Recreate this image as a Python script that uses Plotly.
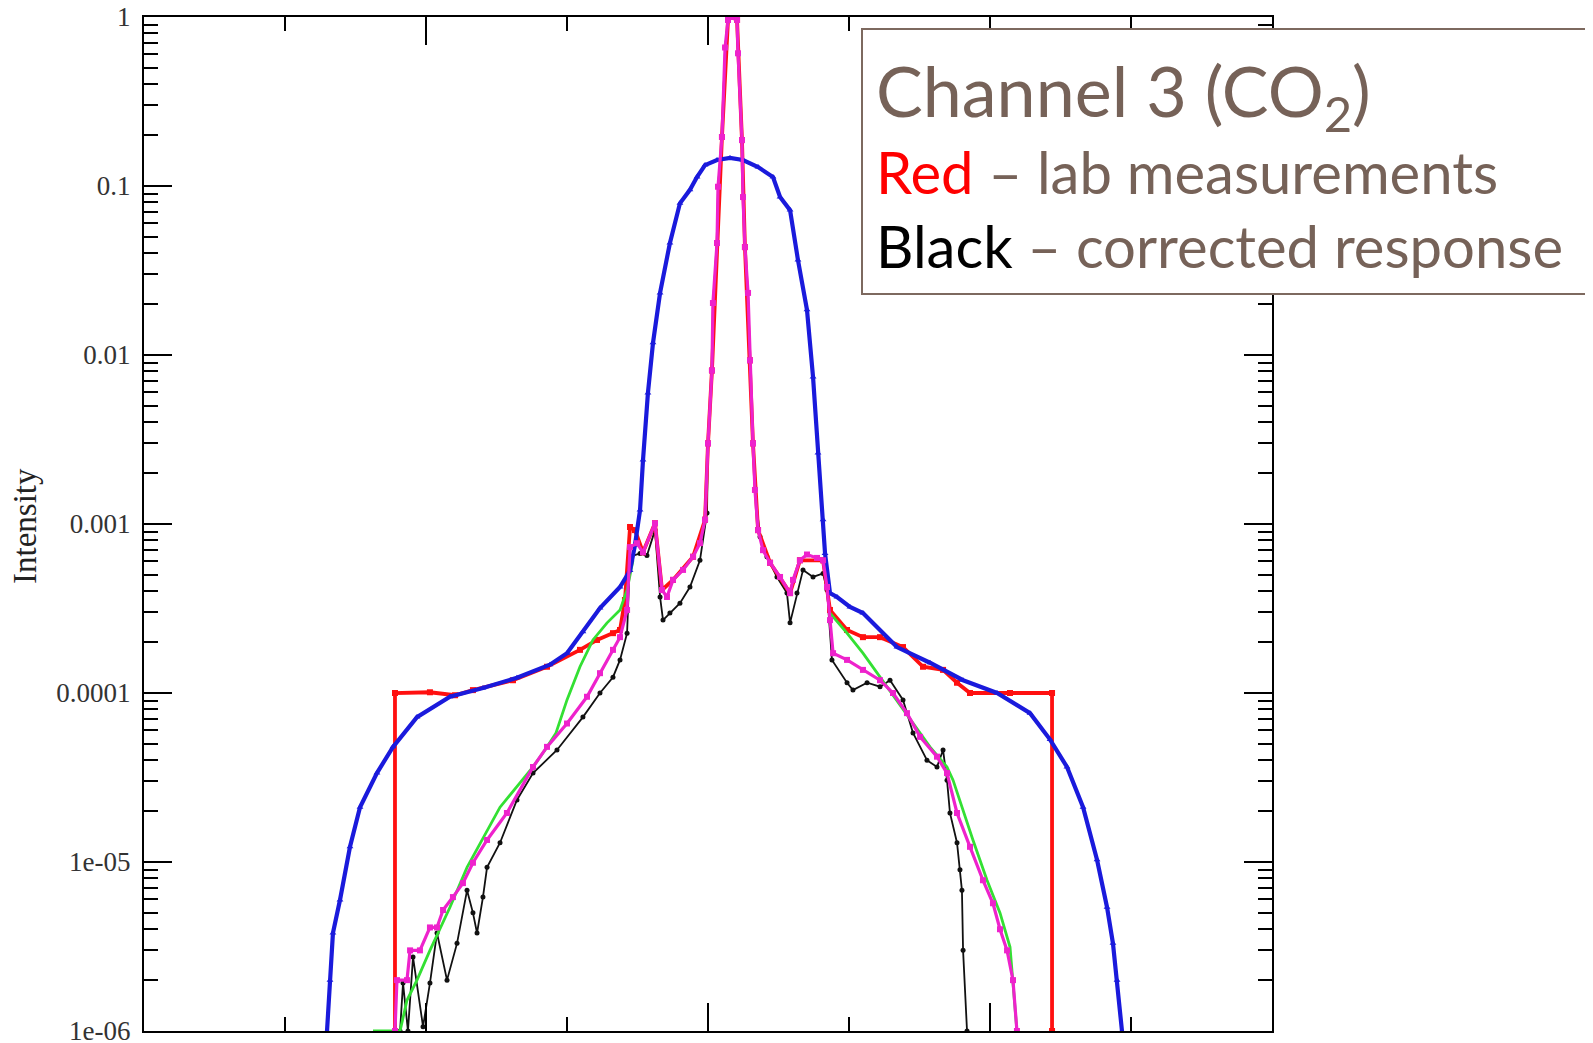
import plotly.graph_objects as go

# ---------------- data ----------------
blue_x = [-2.702, -2.681, -2.660, -2.610, -2.539, -2.468, -2.348, -2.234, -2.064, -1.830,
          -1.596, -1.355, -1.121, -1.000, -0.887, -0.766, -0.624, -0.553, -0.518, -0.482,
          -0.461, -0.426, -0.390, -0.340, -0.270, -0.199, -0.128, -0.078, -0.021, 0.064,
          0.156, 0.248, 0.355, 0.461, 0.511,
          0.582, 0.638, 0.702, 0.745, 0.780, 0.816, 0.830, 0.865, 0.915, 1.007, 1.099, 1.340,
          1.574, 1.809, 2.050, 2.284, 2.426, 2.546, 2.660, 2.759, 2.830, 2.872, 2.901, 2.936]
blue_y = [1.0e-6, 2.0e-6, 3.8e-6, 5.96e-6, 1.23e-5, 2.11e-5, 3.36e-5, 4.8e-5, 7.2e-5, 9.5e-5,
          1.07e-4, 1.23e-4, 1.47e-4, 1.72e-4, 2.3e-4, 3.18e-4, 4.24e-4, 5.3e-4, 7.5e-4, 1.21e-3,
          2.39e-3, 5.96e-3, 1.18e-2, 2.33e-2, 4.6e-2, 7.9e-2, 9.5e-2, 0.113, 0.133, 0.1425,
          0.1465, 0.1425, 0.1295, 0.113, 8.6e-2,
          7.2e-2, 3.65e-2, 1.85e-2, 7.4e-3, 2.63e-3, 1.06e-3, 6.7e-4, 3.9e-4, 3.7e-4, 3.23e-4,
          2.97e-4, 1.87e-4, 1.51e-4, 1.19e-4, 1.0e-4, 7.6e-5, 5.3e-5, 3.65e-5, 2.11e-5, 1.03e-5,
          5.4e-6, 3.3e-6, 2.0e-6, 1.0e-6]

red_x = [-2.220, -2.220, -1.972, -1.794, -1.667, -1.383, -1.142, -0.908, -0.787, -0.674,
         -0.624, -0.589, -0.553, -0.518, -0.461, -0.376, -0.326, -0.248, -0.106, -0.021,
         0.000, 0.028, 0.064, 0.099, 0.142, 0.170, 0.206, 0.241, 0.262, 0.298, 0.319,
         0.355, 0.440, 0.582, 0.652, 0.816, 0.844, 0.865, 0.986,
         1.099, 1.220, 1.383, 1.525, 1.667, 1.766, 1.858, 2.142, 2.440, 2.440]
red_y = [1.0e-6, 1.0e-4, 1.01e-4, 9.7e-5, 1.04e-4, 1.19e-4, 1.43e-4, 1.8e-4, 2.06e-4, 2.26e-4,
         2.36e-4, 3.55e-4, 9.6e-4, 9.2e-4, 6.8e-4, 1.01e-3, 4.07e-4, 4.67e-4, 6.4e-4, 1.06e-3,
         3.0e-3, 8.1e-3, 4.6e-2, 0.195, 0.96, 1.0, 0.96, 0.187, 4.35e-2, 9.3e-3, 3.0e-3,
         9.2e-4, 5.9e-4, 3.9e-4, 6.1e-4, 6.1e-4, 4.24e-4, 3.1e-4, 2.36e-4,
         2.14e-4, 2.14e-4, 1.87e-4, 1.43e-4, 1.37e-4, 1.15e-4, 1.0e-4, 1.0e-4, 1.0e-4, 1.0e-6]

black_x = [-2.184, -2.163, -2.128, -2.092, -2.021, -1.972, -1.922, -1.851, -1.780, -1.709,
           -1.667, -1.638, -1.596, -1.567, -1.475, -1.355, -1.241, -1.071, -0.887, -0.766,
           -0.674, -0.624, -0.574, -0.553, -0.482, -0.433, -0.376, -0.340, -0.319, -0.270,
           -0.199, -0.128, -0.057, -0.007, 0.000, 0.028, 0.035, 0.064, 0.071, 0.099, 0.121,
           0.142, 0.170, 0.206, 0.213, 0.241, 0.248, 0.262, 0.284, 0.298, 0.319,
           0.333, 0.369, 0.418, 0.489, 0.560, 0.582, 0.631, 0.674, 0.745, 0.816, 0.844,
           0.879, 0.986, 1.028, 1.128, 1.220, 1.291, 1.383, 1.454, 1.553, 1.624, 1.667,
           1.695, 1.716, 1.766, 1.787, 1.801, 1.809, 1.837]
black_y = [1.0e-6, 1.92e-6, 1.0e-6, 2.74e-6, 1.06e-6, 1.92e-6, 3.8e-6, 2.0e-6, 3.3e-6, 6.8e-6,
           5.0e-6, 3.8e-6, 6.2e-6, 9.3e-6, 1.3e-5, 2.33e-5, 3.36e-5, 4.6e-5, 7.2e-5, 1.0e-4,
           1.24e-4, 1.57e-4, 2.26e-4, 6.4e-4, 6.7e-4, 6.5e-4, 9.2e-4, 3.7e-4, 2.7e-4, 2.97e-4,
           3.4e-4, 4.24e-4, 6.1e-4, 1.16e-3, 3.0e-3, 8.1e-3, 2.03e-2, 4.6e-2, 9.9e-2, 0.195, 0.66,
           0.96, 1.0, 0.96, 0.61, 0.187, 8.6e-2, 4.35e-2, 2.33e-2, 9.3e-3, 3.0e-3,
           1.59e-3, 8.4e-4, 6.4e-4, 4.86e-4, 3.9e-4, 2.6e-4, 3.9e-4, 5.35e-4, 4.86e-4, 5.1e-4, 4.07e-4,
           1.57e-4, 1.15e-4, 1.04e-4, 1.15e-4, 1.09e-4, 1.19e-4, 9.1e-5, 5.8e-5, 4.0e-5, 3.65e-5, 4.6e-5,
           3.05e-5, 1.95e-5, 1.3e-5, 9.0e-6, 6.8e-6, 3.0e-6, 1.0e-6]

green_x = [-2.376, -2.184, -2.135, -2.064, -1.972, -1.901, -1.830, -1.709, -1.475, -1.241,
           -1.156, -1.078, -1.000, -0.908, -0.816, -0.716, -0.624, -0.574, -0.532, None,
           0.865, 0.986, 1.099, 1.220, 1.340, 1.454, 1.574, 1.695, 1.738, 1.879, 1.979,
           2.071, 2.142, 2.191]
green_y = [1.0e-6, 1.0e-6, 1.52e-6, 2.0e-6, 3.0e-6, 4.0e-6, 5.4e-6, 9.3e-6, 2.11e-5, 3.65e-5,
           4.6e-5, 5.8e-5, 9.1e-5, 1.43e-4, 2.06e-4, 2.6e-4, 3.1e-4, 4.07e-4, 6.1e-4, None,
           2.97e-4, 2.26e-4, 1.72e-4, 1.24e-4, 9.1e-5, 6.6e-5, 4.8e-5, 3.65e-5, 3.05e-5, 1.35e-5,
           7.8e-6, 5.0e-6, 3.14e-6, 1.0e-6]

magenta_x = [-2.220, -2.206, -2.135, -2.113, -2.043, -1.972, -1.922, -1.879, -1.809, -1.738,
             -1.667, -1.567, -1.426, -1.241, -1.142, -1.000, -0.858, -0.766, -0.674, -0.624,
             -0.574, -0.553, -0.504, -0.461, -0.376, -0.326, -0.291, -0.248, -0.177, -0.106,
             -0.057, -0.021, 0.000, 0.028, 0.035, 0.064, 0.071, 0.099, 0.121, 0.142, 0.170,
             0.206, 0.213, 0.241, 0.248, 0.262, 0.284, 0.298, 0.319, 0.333, 0.355, 0.390,
             0.440, 0.511, 0.582, 0.603, 0.652, 0.702, 0.773, 0.816, 0.844, 0.865, 0.887,
             0.986, 1.099, 1.220, 1.312, 1.411, 1.504, 1.624, 1.695, 1.766, 1.858, 1.950,
             2.021, 2.071, 2.121, 2.163, 2.191]
magenta_y = [1.0e-6, 2.0e-6, 2.0e-6, 3.0e-6, 3.0e-6, 4.1e-6, 4.1e-6, 5.2e-6, 6.2e-6, 7.5e-6,
             9.9e-6, 1.35e-5, 1.95e-5, 3.65e-5, 4.8e-5, 6.6e-5, 9.5e-5, 1.31e-4, 1.8e-4, 2.14e-4,
             3.1e-4, 7.3e-4, 7.7e-4, 6.8e-4, 1.01e-3, 4.07e-4, 3.7e-4, 4.67e-4, 5.35e-4, 6.4e-4,
             7.7e-4, 1.06e-3, 3.0e-3, 8.1e-3, 2.03e-2, 4.6e-2, 9.9e-2, 0.195, 0.66, 0.96, 1.0,
             0.96, 0.61, 0.187, 8.6e-2, 4.35e-2, 2.33e-2, 9.3e-3, 3.0e-3, 1.59e-3, 9.2e-4, 7.0e-4,
             5.9e-4, 4.86e-4, 3.9e-4, 4.67e-4, 6.1e-4, 6.6e-4, 6.3e-4, 6.1e-4, 4.24e-4, 2.7e-4, 1.72e-4,
             1.57e-4, 1.37e-4, 1.19e-4, 1.0e-4, 7.6e-5, 5.5e-5, 4.2e-5, 3.36e-5, 1.95e-5, 1.23e-5, 7.8e-6,
             5.7e-6, 4.0e-6, 3.0e-6, 2.0e-6, 1.0e-6]

y_tickvals = [1, 0.1, 0.01, 0.001, 0.0001, 1e-5, 1e-6]
y_ticktext = ["1", "0.1", "0.01", "0.001", "0.0001", "1e-05", "1e-06"]
y_title = "Intensity"
box_lines = ["Channel 3 (CO<sub>2</sub>)",
             "<span style='color:#ff0000'>Red</span> – lab measurements",
             "<span style='color:#000000'>Black</span> – corrected response"]

# ---------------- figure ----------------
fig = go.Figure()
fig.add_trace(go.Scatter(x=black_x, y=black_y, mode="lines+markers",
                         line=dict(color="#111111", width=1.8),
                         marker=dict(symbol="circle", size=5, color="#111111")))
fig.add_trace(go.Scatter(x=red_x, y=red_y, mode="lines+markers",
                         line=dict(color="#ff1010", width=3.8),
                         marker=dict(symbol="square", size=6, color="#ff1010")))
fig.add_trace(go.Scatter(x=green_x, y=green_y, mode="lines", connectgaps=False,
                         line=dict(color="#33e033", width=2.8)))
fig.add_trace(go.Scatter(x=blue_x, y=blue_y, mode="lines+markers",
                         line=dict(color="#1a1adc", width=4.2),
                         marker=dict(symbol="triangle-up", size=6, color="#1a1adc")))
fig.add_trace(go.Scatter(x=magenta_x, y=magenta_y, mode="lines+markers",
                         line=dict(color="#ee22cc", width=3.2),
                         marker=dict(symbol="square", size=6, color="#ee22cc")))

W, H = 1593, 1043
# page offset of the figure inside the html body (default 8px body margin)
OFF = 8
PL, PT, PR, PB = 144, 17, 1272, 1031          # plot area in page pixels
L, T = PL - OFF, PT - OFF
R = W - (PR - OFF)
B = H - (PB - OFF)
pw, ph = PR - PL, PB - PT


def px(xp):
    return (xp - PL) / pw


def py(yp):
    return (PB - yp) / ph


minor_y = [k * 10.0 ** e for e in range(-6, 0) for k in range(2, 10)]

fig.update_layout(
    width=W, height=H, showlegend=False,
    margin=dict(l=L, r=R, t=T, b=B, pad=0, autoexpand=False),
    paper_bgcolor="white", plot_bgcolor="white",
    xaxis=dict(range=[-4, 4], showticklabels=False, showgrid=False, zeroline=False,
               automargin=False,
               ticks="inside", tick0=0, dtick=2, ticklen=28, tickwidth=2, tickcolor="black",
               minor=dict(ticks="inside", tick0=0, dtick=1, ticklen=14, tickwidth=2,
                          tickcolor="black", showgrid=False),
               showline=True, linewidth=2, linecolor="black", mirror="allticks"),
    yaxis=dict(type="log", range=[-6, 0], showgrid=False, zeroline=False, automargin=False,
               tickmode="array", tickvals=y_tickvals, ticktext=y_ticktext,
               ticks="inside", ticklen=28, tickwidth=2, tickcolor="black",
               minor=dict(ticks="inside", tickmode="array", tickvals=minor_y, ticklen=14,
                          tickwidth=2, tickcolor="black", showgrid=False),
               showline=True, linewidth=2, linecolor="black", mirror="allticks",
               tickfont=dict(family="Liberation Serif", size=27, color="#333333"),
               ticklabelstandoff=6, ticklabeloverflow="allow"),
)

fig.add_annotation(text=y_title, xref="paper", yref="paper", x=px(25), y=py(526),
                   textangle=-90, showarrow=False, xanchor="center", yanchor="middle",
                   font=dict(family="Liberation Serif", size=33, color="#222222"))

fig.add_shape(type="rect", xref="paper", yref="paper", x0=px(862), x1=px(1610),
              y0=py(294), y1=py(29), layer="above",
              line=dict(color="rgb(125,105,95)", width=2), fillcolor="white")

brown = "rgb(118,98,88)"
fig.add_annotation(text=box_lines[0], xref="paper", yref="paper", x=px(874), y=py(95),
                   showarrow=False, xanchor="left", yanchor="middle",
                   font=dict(family="Lato", size=70, color=brown))
fig.add_annotation(text=box_lines[1], xref="paper", yref="paper", x=px(874), y=py(171),
                   showarrow=False, xanchor="left", yanchor="middle",
                   font=dict(family="Lato", size=58, color=brown))
fig.add_annotation(text=box_lines[2], xref="paper", yref="paper", x=px(874), y=py(245),
                   showarrow=False, xanchor="left", yanchor="middle",
                   font=dict(family="Lato", size=58, color=brown))

fig.write_html("out.html")
